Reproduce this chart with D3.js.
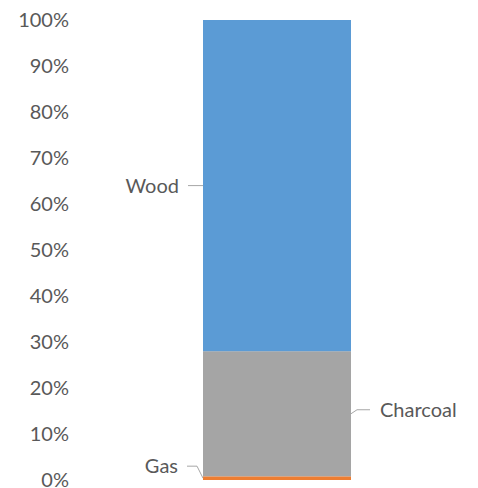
<!DOCTYPE html>
<html><head><meta charset="utf-8">
<script src="https://cdn.jsdelivr.net/npm/d3@7"></script>
<style>body{margin:0;background:#fff}svg text{font-family:Lato,"Open Sans",sans-serif;fill:#595959}</style>
</head><body><div id="chart"></div>
<script>
const series = ["Gas","Charcoal","Wood"];
const values = [0.8, 27.2, 72.0];
const colors = ["#ED7D31","#A5A5A5","#5B9BD5"];
const tickValues = [0,10,20,30,40,50,60,70,80,90,100];

const W = 478, H = 488;
const svg = d3.select("#chart").append("svg").attr("width", W).attr("height", H);
const y = d3.scaleLinear().domain([0,100]).range([480,20]);
const x = d3.scaleBand().domain(["all"]).range([129,425]).paddingInner(0).paddingOuter(0.5);

const axis = d3.axisLeft(y).tickValues(tickValues).tickFormat(d => d + "%").tickSize(0).tickPadding(0);
const ag = svg.append("g").attr("transform","translate(69,0)").call(axis);
ag.select(".domain").remove();
ag.selectAll("text").style("font-size","20px").attr("fill","#595959").attr("dy","0.33em").style("font-family","Lato,'Open Sans',sans-serif");

let cum = 0;
const stacked = values.map((v,i)=>{const s={name:series[i],y0:cum,y1:cum+v,color:colors[i]};cum+=v;return s;});
svg.selectAll("rect.seg").data(stacked).enter().append("rect").attr("class","seg")
  .attr("x", x("all")).attr("width", x.bandwidth())
  .attr("y", d=>y(d.y1)).attr("height", d=>y(d.y0)-y(d.y1))
  .attr("fill", d=>d.color);

const bx0 = x("all"), bx1 = x("all")+x.bandwidth();
const lineColor = "#a6a6a6";
// Wood label
const wood = stacked[2], wm = y((wood.y0+wood.y1)/2);
svg.append("path").attr("d", `M${bx0-15},${wm}H${bx0}`).attr("stroke",lineColor).attr("fill","none");
svg.append("text").attr("x", bx0-24).attr("y", wm).attr("dy","0.35em").attr("text-anchor","end").style("font-size","20px").text("Wood");
// Charcoal label
const ch = stacked[1], cm = y((ch.y0+ch.y1)/2);
svg.append("path").attr("d", `M${bx1},${cm}L${bx1+6},${cm-4}H${bx1+19}`).attr("stroke",lineColor).attr("fill","none");
svg.append("text").attr("x", bx1+29).attr("y", cm-4).attr("dy","0.35em").attr("text-anchor","start").style("font-size","20px").text("Charcoal");
// Gas label
const gas = stacked[0], gm = y((gas.y0+gas.y1)/2);
svg.append("path").attr("d", `M${bx0-16},${gm-12}H${bx0-6}L${bx0},${gm}`).attr("stroke",lineColor).attr("fill","none");
svg.append("text").attr("x", bx0-25).attr("y", gm-12).attr("dy","0.35em").attr("text-anchor","end").style("font-size","20px").text("Gas");
</script></body></html>
